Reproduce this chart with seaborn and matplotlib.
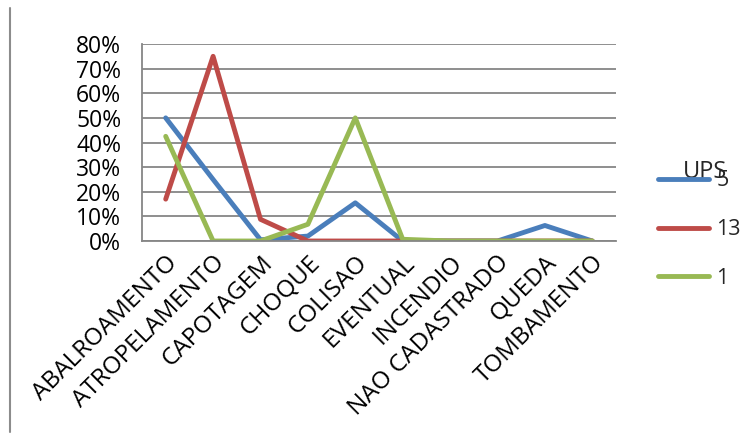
import matplotlib
matplotlib.use("Agg")
import matplotlib.pyplot as plt
import seaborn as sns
import pandas as pd
from matplotlib.ticker import FixedLocator, PercentFormatter

categories = ["ABALROAMENTO", "ATROPELAMENTO", "CAPOTAGEM", "CHOQUE", "COLISAO",
              "EVENTUAL", "INCENDIO", "NAO CADASTRADO", "QUEDA", "TOMBAMENTO"]
ups_5 = [0.50, 0.25, 0.005, 0.02, 0.155, 0.0, 0.0, 0.0, 0.063, 0.0]
ups_13 = [0.17, 0.75, 0.088, 0.0, 0.0, 0.0, 0.0, 0.0, 0.0, 0.0]
ups_1 = [0.425, 0.0, 0.0, 0.068, 0.50, 0.007, 0.0, 0.0, 0.0, 0.0]
series_names = ["5", "13", "1"]
colors = ["#4A7EBB", "#BE4B48", "#98B954"]

rows = []
for name, vals in zip(series_names, [ups_5, ups_13, ups_1]):
    for i, (cat, v) in enumerate(zip(categories, vals)):
        rows.append({"pos": i, "categoria": cat, "valor": v, "UPS": name})
df = pd.DataFrame(rows)

sns.set_theme(style="white")
plt.rcParams["font.family"] = ["Open Sans", "DejaVu Sans"]

fig = plt.figure(figsize=(7.55, 4.37), dpi=100)
ax = fig.add_axes([142 / 755, 1 - 241 / 437, (616 - 142) / 755, (241 - 44) / 437])

sns.lineplot(data=df, x="pos", y="valor", hue="UPS", hue_order=series_names,
             palette=colors, linewidth=3.5, ax=ax, legend=False, sort=False)

ax.set_xlim(-0.5, len(categories) - 0.5)
ax.set_ylim(0, 0.8)
ax.yaxis.set_major_locator(FixedLocator([i / 10 for i in range(9)]))
ax.yaxis.set_major_formatter(PercentFormatter(1.0, decimals=0))
ax.yaxis.grid(True, color="#868686", linewidth=1.3)
ax.set_axisbelow(True)

ax.set_xticks(range(len(categories)))
ax.set_xticklabels(categories, rotation=45, ha="right", rotation_mode="anchor")
ax.set_xticks([i - 0.5 for i in range(len(categories) + 1)], minor=True)
ax.tick_params(axis="x", which="major", length=0, pad=7, labelsize=17.5)
ax.tick_params(axis="x", which="minor", length=6, color="#868686", width=1.3, direction="out")
ax.tick_params(axis="y", length=6, color="#868686", width=1.3, direction="out", labelsize=16.5, pad=9)
for lab in ax.get_xticklabels() + ax.get_yticklabels():
    lab.set_color("black")

for side in ["top", "right"]:
    ax.spines[side].set_visible(False)
for side in ["left", "bottom"]:
    ax.spines[side].set_color("#868686")
    ax.spines[side].set_linewidth(1.3)
ax.set_xlabel("")
ax.set_ylabel("")

# legend entries
handles = [plt.Line2D([], [], color=c, linewidth=3.5) for c in colors]
leg = fig.legend(handles, series_names, loc="upper left",
                 bbox_to_anchor=(639 / 755, 1 - 151 / 437), frameon=False,
                 handlelength=2.37, labelspacing=1.29, fontsize=15.5,
                 handletextpad=0.33)
fig.text(683 / 755, 1 - 172 / 437, "UPS", fontsize=17, va="center", ha="left")

# outer frame line on the left
fig.add_artist(plt.Line2D([10 / 755, 10 / 755], [1 - 8 / 437, 1 - 432 / 437],
                          color="#8C8C8C", linewidth=1.5, transform=fig.transFigure))

fig.savefig("out.png", dpi=100)
